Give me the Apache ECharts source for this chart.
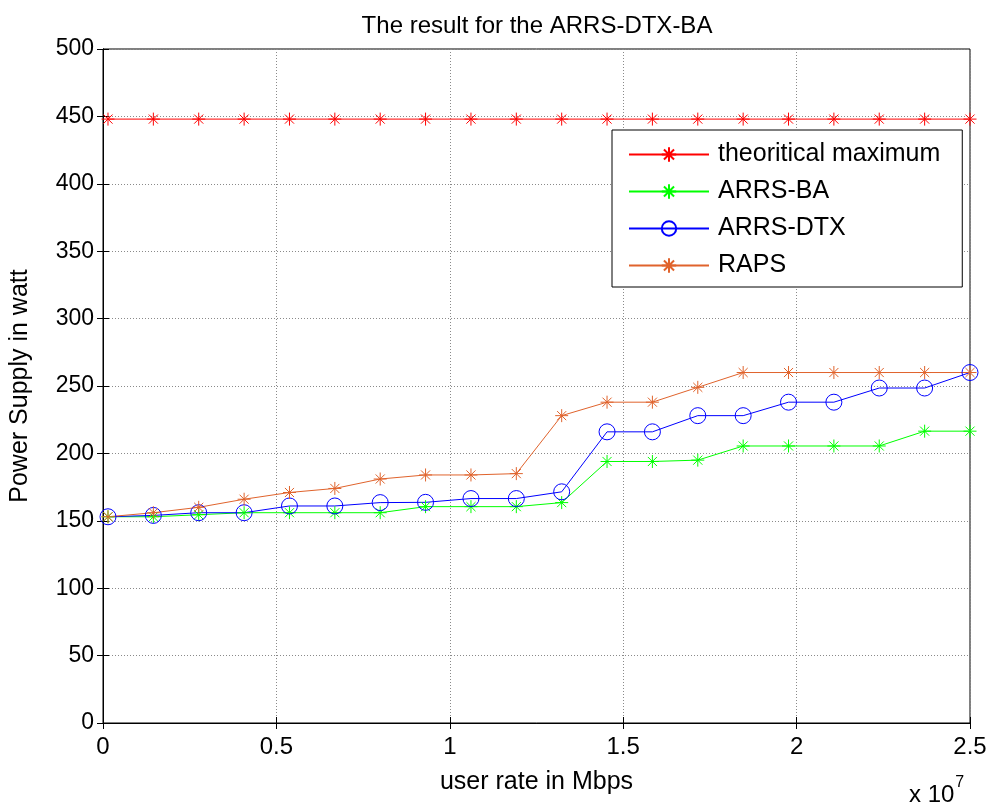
<!DOCTYPE html>
<html>
<head>
<meta charset="utf-8">
<script src="https://cdn.jsdelivr.net/npm/echarts@6/dist/echarts.min.js"></script>
<style>html,body{margin:0;padding:0;background:#fff}#c{width:991px;height:807px}</style>
</head>
<body>
<div id="c"></div>
<script>
// user rate (x 10^7 bps)
var xRates = [0.0144, 0.1452, 0.2760, 0.4069, 0.5377, 0.6685, 0.7993, 0.9301, 1.0610, 1.1918,
              1.3226, 1.4534, 1.5842, 1.7151, 1.8459, 1.9767, 2.1075, 2.2383, 2.3692, 2.5000];
var theoreticalMax = [448, 448, 448, 448, 448, 448, 448, 448, 448, 448,
                      448, 448, 448, 448, 448, 448, 448, 448, 448, 448];
var arrsBA = [153, 153, 154.5, 156, 156, 156, 156, 160.5, 160.5, 160.5,
              163.5, 194, 194, 195, 205.5, 205.5, 205.5, 205.5, 216.5, 216.5];
var arrsDTX = [153, 154, 156, 156, 161, 161, 163.5, 163.7, 166.5, 166.5,
               171.5, 216, 216, 228, 228, 238, 238, 248.5, 248.5, 260];
var raps = [153, 156, 160, 166, 171, 174, 181, 184, 184, 185,
            228, 238, 238, 249, 260, 260, 260, 260, 260, 260];
var seriesNames = ['theoritical maximum', 'ARRS-BA', 'ARRS-DTX', 'RAPS'];
var xTicks = [0, 0.5, 1, 1.5, 2, 2.5];
var yTicks = [0, 50, 100, 150, 200, 250, 300, 350, 400, 450, 500];

var SCALE = 1e7;
function pairs(ys){ return ys.map(function(v,i){ return [xRates[i]*SCALE, v]; }); }
var FONT = '"Liberation Sans", Arial, Helvetica, sans-serif';
var star = 'path://M5,0L5,10M0,5L10,5M1.5,1.5L8.5,8.5M1.5,8.5L8.5,1.5';

function mk(name, ys, color, symbol, size){
  return {
    name: name, type: 'line', data: pairs(ys), xAxisIndex: 0, yAxisIndex: 0,
    symbol: symbol, symbolSize: size, showSymbol: true,
    lineStyle: {color: color, width: 1},
    itemStyle: {color: 'rgba(0,0,0,0)', borderColor: color, borderWidth: 1},
    emphasis: {disabled: true},
    animation: false
  };
}

var chart = echarts.init(document.getElementById('c'), null, {renderer: 'canvas'});
var gridStyle = {show: true, lineStyle: {color: '#8a8a8a', type: [1, 2], width: 1}};
chart.setOption({
  backgroundColor: '#fff',
  animation: false,
  title: {
    text: 'The result for the ARRS-DTX-BA', left: 532, top: 9, textAlign: 'center',
    textStyle: {fontFamily: FONT, fontSize: 24, fontWeight: 'normal', color: '#000'}
  },
  grid: {left: 102, right: 21, top: 49, bottom: 84, show: true, borderColor: '#000', borderWidth: 1},
  legend: {
    orient: 'vertical', left: 612, top: 130,
    padding: [12, 22, 9, 16],
    itemWidth: 80, itemHeight: 18, itemGap: 12,
    backgroundColor: '#fff', borderColor: '#000', borderWidth: 1,
    textStyle: {fontFamily: FONT, fontSize: 25, color: '#000', lineHeight: 25, padding: [0,0,0,4]},
    data: seriesNames, selectedMode: false
  },
  xAxis: [{
    type: 'value', min: 0, max: 2.5e7, interval: 5e6,
    name: 'user rate in Mbps', nameLocation: 'middle', nameGap: 47,
    nameTextStyle: {fontFamily: FONT, fontSize: 25, color: '#000'},
    axisLine: {show: true, lineStyle: {color: '#000'}},
    axisTick: {show: true, inside: true, length: 6, lineStyle: {color: '#000'}},
    axisLabel: {fontFamily: FONT, fontSize: 24, color: '#000', margin: 12,
      formatter: function(v){ var t = v / SCALE; return xTicks.indexOf(t) >= 0 ? String(t) : ''; }},
    splitLine: gridStyle
  }, {
    type: 'value', position: 'top', min: 0, max: 2.5e7, interval: 5e6,
    axisLine: {show: true, lineStyle: {color: '#000'}},
    axisTick: {show: true, inside: true, length: 6, lineStyle: {color: '#000'}},
    axisLabel: {show: false}, splitLine: {show: false}
  }],
  yAxis: [{
    type: 'value', min: 0, max: 500, interval: 50,
    name: 'Power Supply in watt', nameLocation: 'middle', nameGap: 70,
    nameTextStyle: {fontFamily: FONT, fontSize: 25, color: '#000'},
    axisLine: {show: true, lineStyle: {color: '#000'}},
    axisTick: {show: true, inside: true, length: 6, lineStyle: {color: '#000'}},
    axisLabel: {fontFamily: FONT, fontSize: 23, color: '#000', margin: 9,
      formatter: function(v){ return yTicks.indexOf(v) >= 0 ? String(v) : ''; }},
    splitLine: gridStyle
  }, {
    type: 'value', position: 'right', min: 0, max: 500, interval: 50,
    axisLine: {show: true, lineStyle: {color: '#000'}},
    axisTick: {show: true, inside: true, length: 6, lineStyle: {color: '#000'}},
    axisLabel: {show: false}, splitLine: {show: false}
  }],
  graphic: [{
    type: 'text', left: 909, top: 775,
    style: {
      text: '{a|x 10}{b|7}',
      rich: {
        a: {fontFamily: FONT, fontSize: 24, fill: '#000', verticalAlign: 'bottom', lineHeight: 32},
        b: {fontFamily: FONT, fontSize: 16, fill: '#000', verticalAlign: 'top', lineHeight: 32, padding: [0,0,18,1]}
      }
    }
  }],
  series: [
    mk(seriesNames[0], theoreticalMax, '#ff0000', star, 13),
    mk(seriesNames[1], arrsBA, '#00ff00', star, 13),
    mk(seriesNames[2], arrsDTX, '#0000ff', 'circle', 16),
    mk(seriesNames[3], raps, '#e0632c', star, 13)
  ]
});
</script>
</body>
</html>
